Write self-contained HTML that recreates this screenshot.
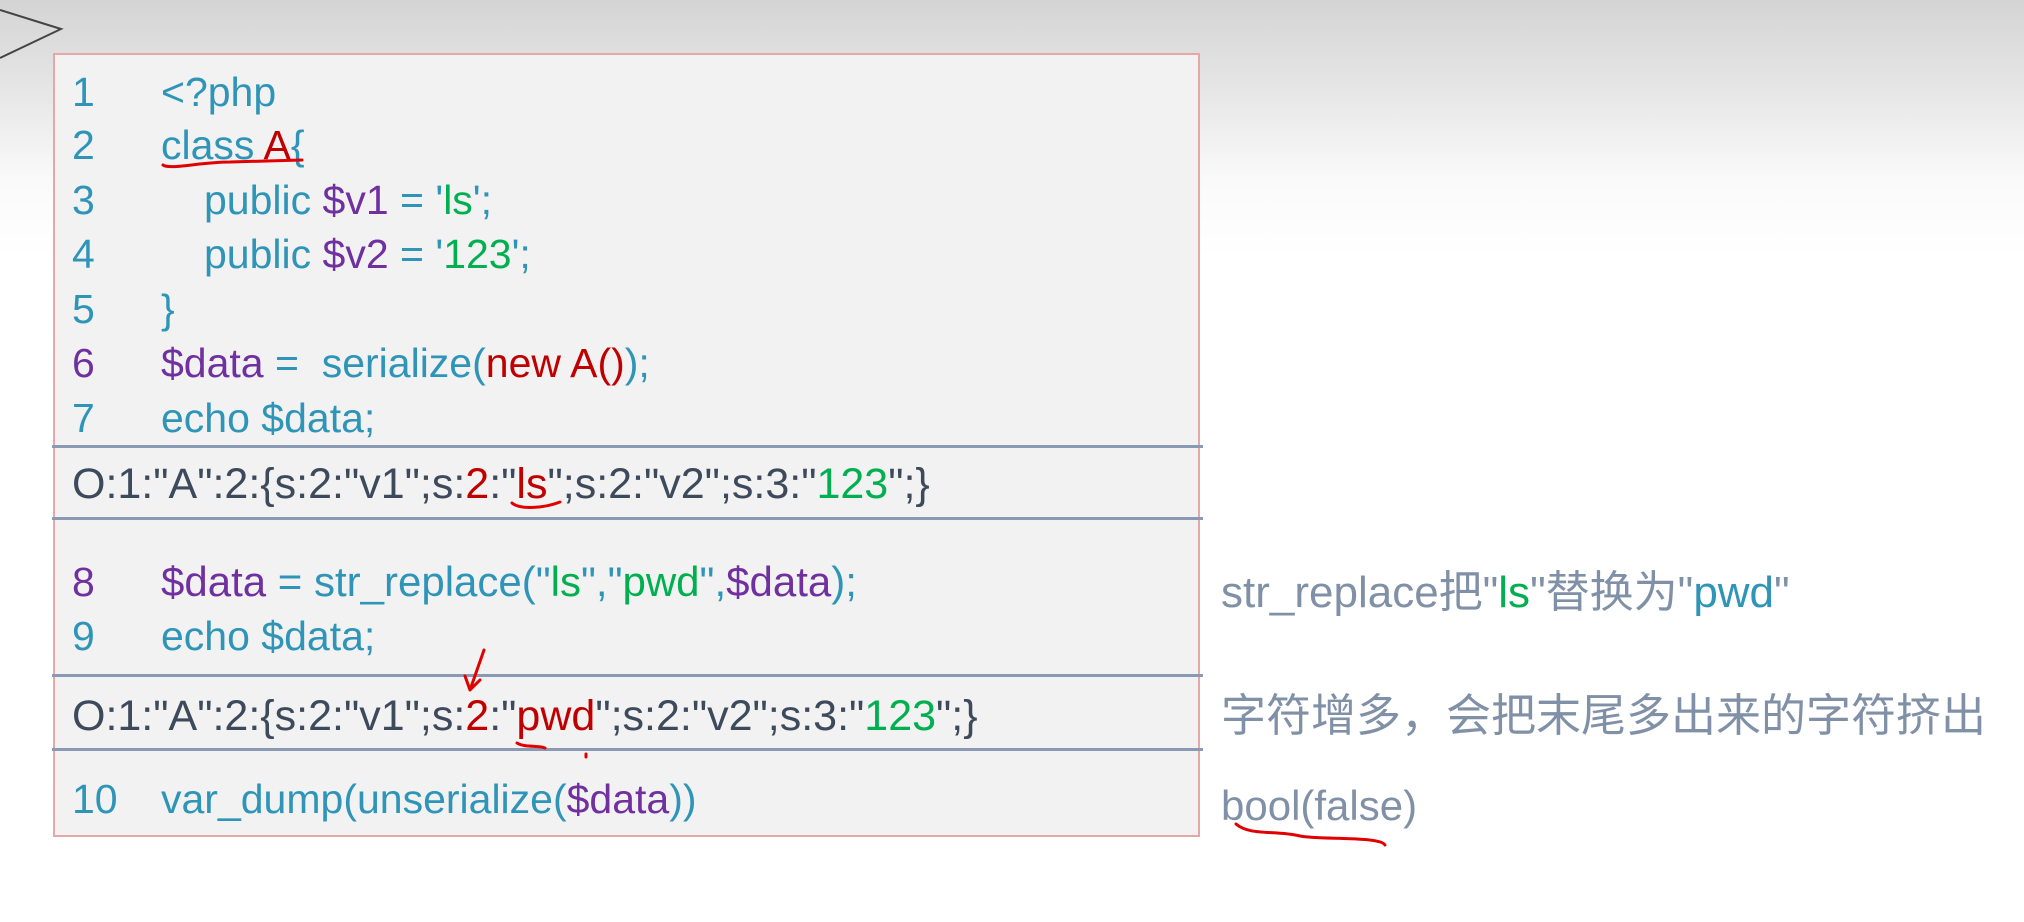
<!DOCTYPE html>
<html><head><meta charset="utf-8"><style>
html,body{margin:0;padding:0}
body{width:2024px;height:922px;position:relative;overflow:hidden;
background:linear-gradient(#d4d4d4 0px,#e6e6e6 90px,#fafafa 180px,#fff 260px);
font-family:"Liberation Sans","Noto Sans CJK SC",sans-serif;font-size:41px}
.box{position:absolute;left:53px;top:53px;width:1147px;height:784px;background:#f2f2f2;border:2px solid #e4a8a8;box-sizing:border-box}
.sep{position:absolute;left:52px;width:1151px;height:0;border-top:3px solid #8a9ab4}
.l{position:absolute;white-space:pre;line-height:50px;transform:translateY(-23px)}
.t{color:#2e95b8}.p{color:#7030a0}.r{color:#c00000}.g{color:#00b050}.d{color:#3d4a5c}.gr{color:#8090a6}
</style></head><body>
<svg style="position:absolute;left:0;top:0" width="70" height="70"><polyline points="0,10 61,29 0,58" fill="none" stroke="#444" stroke-width="2"/></svg>
<div class="box"></div>
<div class="sep" style="top:445px"></div>
<div class="sep" style="top:517px"></div>
<div class="sep" style="top:674px"></div>
<div class="sep" style="top:748px"></div>

<div class="l t" style="left:72px;top:90px">1</div><div class="l t" style="left:161px;top:90px">&lt;?php</div>
<div class="l t" style="left:72px;top:143px">2</div><div class="l t" style="left:161px;top:143px">class <span class="r">A</span>{</div>
<div class="l t" style="left:72px;top:198px">3</div><div class="l t" style="left:204px;top:198px">public <span class="p">$v1</span> = '<span class="g">ls</span>';</div>
<div class="l t" style="left:72px;top:252px">4</div><div class="l t" style="left:204px;top:252px">public <span class="p">$v2</span> = '<span class="g">123</span>';</div>
<div class="l t" style="left:72px;top:307px">5</div><div class="l t" style="left:161px;top:307px">}</div>
<div class="l p" style="left:72px;top:361px">6</div><div class="l t" style="left:161px;top:361px"><span class="p">$data</span> =  serialize(<span class="r">new A()</span>);</div>
<div class="l t" style="left:72px;top:416px">7</div><div class="l t" style="left:161px;top:416px">echo $data;</div>

<div class="l d" style="left:72px;top:482px;font-size:43px">O:1:"A":2:{s:2:"v1";s:<span class="r">2</span>:"<span class="r">ls</span>";s:2:"v2";s:3:"<span class="g">123</span>";}</div>

<div class="l p" style="left:72px;top:580px">8</div><div class="l t" style="left:161px;top:580px;font-size:42px"><span class="p">$data</span> = str_replace("<span class="g">ls</span>","<span class="g">pwd</span>",<span class="p">$data</span>);</div>
<div class="l t" style="left:72px;top:634px">9</div><div class="l t" style="left:161px;top:634px">echo $data;</div>

<div class="l d" style="left:72px;top:714px;font-size:43px">O:1:"A":2:{s:2:"v1";s:<span class="r">2</span>:"<span class="r">pwd</span>";s:2:"v2";s:3:"<span class="g">123</span>";}</div>

<div class="l t" style="left:72px;top:797px">10</div><div class="l t" style="left:161px;top:797px">var_dump(unserialize(<span class="p">$data</span>))</div>

<div class="l gr" style="left:1221px;top:591px;font-size:44px">str_replace把"<span class="g">ls</span>"替换为"<span class="t">pwd</span>"</div>
<div class="l gr" style="left:1221px;top:714px;font-size:45px">字符增多，会把末尾多出来的字符挤出</div>
<div class="l gr" style="left:1221px;top:804px;font-size:42px">bool(false)</div>

<svg style="position:absolute;left:0;top:0" width="2024" height="922">
<g fill="none" stroke="#e00000" stroke-width="3" stroke-linecap="round">
<path d="M163,165 C170,170 200,162 230,162 L302,160"/>
<path d="M512,503 C520,510 545,508 560,502"/>
<path d="M484,650 L470,690 M470,690 L465,676 M470,690 L480,680"/>
<path d="M517,743 C525,748 540,745 545,748"/>
<path d="M586,754 l0,3"/>
<path d="M1236,824 C1250,836 1275,830 1300,836 C1320,840 1380,836 1385,845"/>
</g></svg>
</body></html>
